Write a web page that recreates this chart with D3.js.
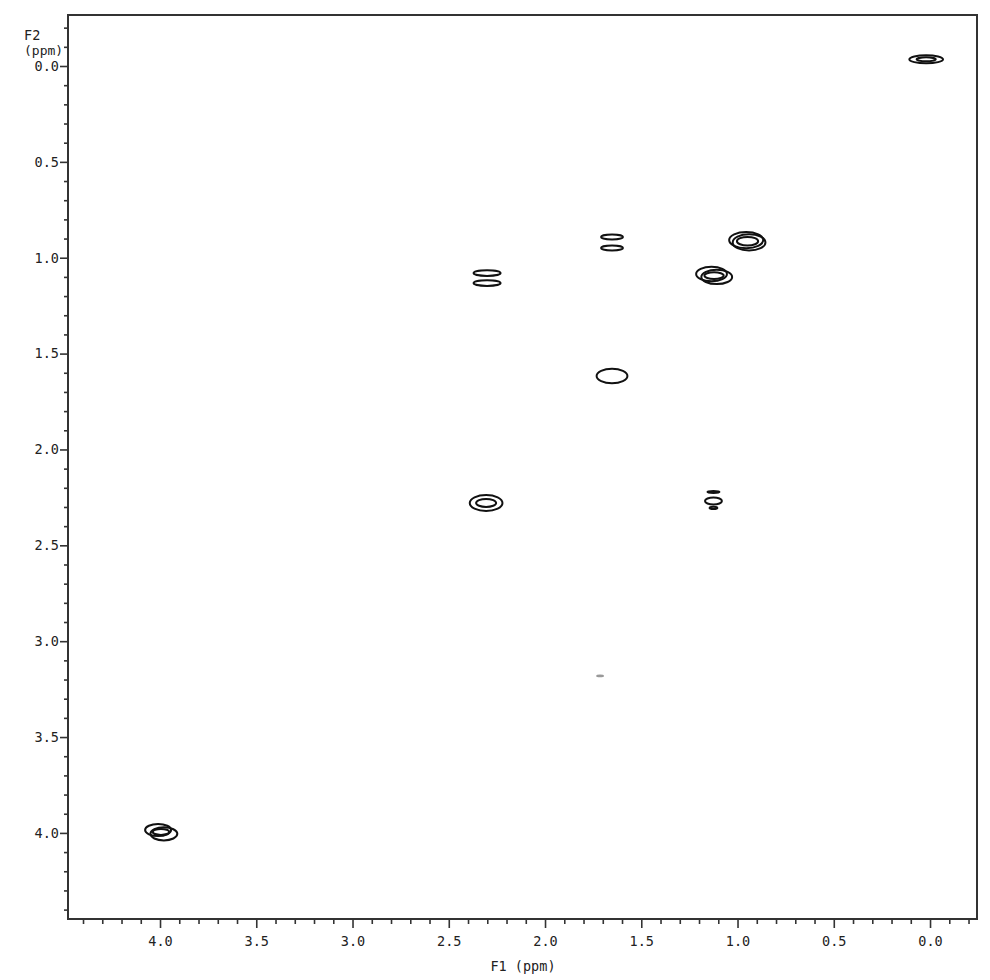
<!DOCTYPE html>
<html><head><meta charset="utf-8">
<script src="https://cdn.jsdelivr.net/npm/d3@7"></script>
<style>body{margin:0;background:#fff}svg{display:block}text{font-family:"DejaVu Sans Mono",monospace;fill:#222}</style>
</head><body><svg id="c" width="990" height="980"></svg>
<script>
// Axis ranges (ppm) and tick labels
const f1Domain = [4.478, -0.244];
const f2Domain = [-0.266, 4.449];
const f1Major = [4.0, 3.5, 3.0, 2.5, 2.0, 1.5, 1.0, 0.5, 0.0];
const f2Major = [0.0, 0.5, 1.0, 1.5, 2.0, 2.5, 3.0, 3.5, 4.0];
const f1Minor = [4.4,4.3,4.2,4.1,3.9,3.8,3.7,3.6,3.4,3.3,3.2,3.1,2.9,2.8,2.7,2.6,2.4,2.3,2.2,2.1,1.9,1.8,1.7,1.6,1.4,1.3,1.2,1.1,0.9,0.8,0.7,0.6,0.4,0.3,0.2,0.1,-0.1,-0.2];
const f2Minor = [-0.2,-0.1,0.1,0.2,0.3,0.4,0.6,0.7,0.8,0.9,1.1,1.2,1.3,1.4,1.6,1.7,1.8,1.9,2.1,2.2,2.3,2.4,2.6,2.7,2.8,2.9,3.1,3.2,3.3,3.4,3.6,3.7,3.8,3.9,4.1,4.2,4.3,4.4];

// Contour rings: centre (F1, F2) and width along each axis, in ppm
const ringF1 = [0.020, 0.020, 0.955, 0.940, 0.948, 1.135, 1.108, 1.122, 2.301, 2.301, 1.652, 1.652, 1.652, 2.306, 2.306, 1.125, 1.125, 1.125, 4.010, 3.980, 3.995, 1.714];
const ringF2 = [-0.035, -0.035, 0.908, 0.920, 0.914, 1.085, 1.100, 1.093, 1.080, 1.132, 0.892, 0.949, 1.617, 2.279, 2.279, 2.222, 2.269, 2.305, 3.985, 4.005, 3.995, 3.181];
const ringW1 = [0.175, 0.100, 0.177, 0.170, 0.110, 0.160, 0.160, 0.100, 0.140, 0.140, 0.114, 0.114, 0.160, 0.170, 0.104, 0.062, 0.088, 0.040, 0.135, 0.140, 0.085, 0.030];
const ringW2 = [0.042, 0.020, 0.085, 0.085, 0.045, 0.075, 0.075, 0.035, 0.030, 0.030, 0.026, 0.026, 0.075, 0.083, 0.042, 0.010, 0.037, 0.012, 0.063, 0.068, 0.031, 0.005];

const svg = d3.select("#c");
const x = d3.scaleLinear().domain(f1Domain).range([68, 977]);
const y = d3.scaleLinear().domain(f2Domain).range([15, 919]);

// frame
svg.append("rect").attr("x", 68).attr("y", 15).attr("width", 909).attr("height", 904)
  .attr("fill", "none").attr("stroke", "#333").attr("stroke-width", 2);

const fmt = d3.format(".1f");
const styleAxis = g => { g.select(".domain").remove(); g.selectAll("line").attr("stroke", "#333").attr("stroke-width", 1.6); g.selectAll("text").attr("font-family", "DejaVu Sans Mono").attr("font-size", 13.5).attr("fill", "#222"); };

svg.append("g").attr("transform", "translate(0,919)")
  .call(d3.axisBottom(x).tickValues(f1Minor).tickSize(5).tickFormat(""))
  .call(styleAxis);
svg.append("g").attr("transform", "translate(0,919)")
  .call(d3.axisBottom(x).tickValues(f1Major).tickSize(9).tickPadding(8).tickFormat(fmt))
  .call(styleAxis);
svg.append("g").attr("transform", "translate(68,0)")
  .call(d3.axisLeft(y).tickValues(f2Minor).tickSize(4).tickFormat(""))
  .call(styleAxis);
svg.append("g").attr("transform", "translate(68,0)")
  .call(d3.axisLeft(y).tickValues(f2Major).tickSize(8).tickPadding(1).tickFormat(fmt))
  .call(styleAxis);

// axis titles
svg.append("text").attr("x", 24).attr("y", 40).attr("font-size", 13.5).text("F2");
svg.append("text").attr("x", 24).attr("y", 55).attr("font-size", 13).text("(ppm)");
svg.append("text").attr("x", 523).attr("y", 971).attr("text-anchor", "middle").attr("font-size", 13.5).text("F1 (ppm)");

// contours
const rings = ringF1.map((f1, i) => ({f1, f2: ringF2[i], w1: ringW1[i], w2: ringW2[i]}));
svg.append("g").selectAll("ellipse").data(rings).join("ellipse")
  .attr("cx", d => x(d.f1)).attr("cy", d => y(d.f2))
  .attr("rx", d => Math.abs(x(d.f1 + d.w1 / 2) - x(d.f1)))
  .attr("ry", d => Math.abs(y(d.f2 + d.w2 / 2) - y(d.f2)))
  .attr("fill", "none").attr("stroke", (d, i) => i === rings.length - 1 ? "#999" : "#111")
  .attr("stroke-width", 2);
</script></body></html>
